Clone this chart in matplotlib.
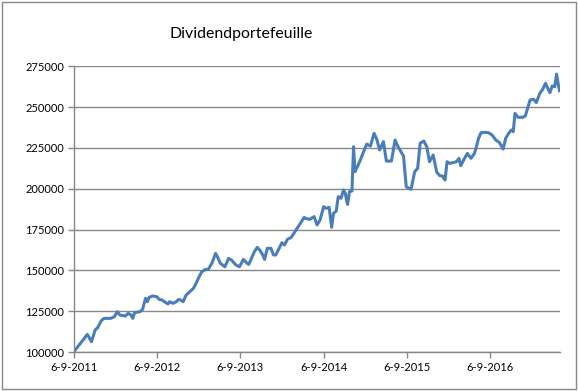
#!/usr/bin/env python3
"""Dividendportefeuille - lijngrafiek in Excel-stijl"""

import matplotlib
matplotlib.use("Agg")
import matplotlib.pyplot as plt
import matplotlib.patches as mpatches
import pandas as pd

START = "2011-09-06"

# dagen sinds 6-9-2011
days = [
    0, 60, 78, 94, 105, 121, 133, 162, 178, 191, 202, 226, 239, 251, 259, 267,
    291, 302, 315, 323, 331, 347, 364, 375, 388, 404, 414, 420, 436, 449, 461,
    469, 480, 493, 509, 525, 533, 550, 562, 579, 590, 606, 622, 630, 643, 663,
    679, 692, 711, 727, 744, 760, 768, 776, 792, 805, 816, 829, 837, 849, 865,
    876, 886, 897, 913, 924, 937, 954, 970, 994, 1010, 1018, 1034, 1054, 1067,
    1080, 1096, 1107, 1120, 1131, 1139, 1151, 1160, 1172, 1183, 1191, 1196,
    1201, 1209, 1220, 1227, 1233, 1244, 1257, 1274, 1285, 1301, 1317, 1329,
    1341, 1358, 1371, 1393, 1409, 1422, 1446, 1458, 1479, 1495, 1508, 1519,
    1535, 1548, 1560, 1576, 1592, 1605, 1616, 1628, 1637, 1649, 1678, 1689,
    1697, 1710, 1726, 1742, 1757, 1765, 1775, 1786, 1802, 1818, 1834, 1851,
    1867, 1883, 1894, 1907, 1918, 1927, 1935, 1948, 1969, 1980, 2001, 2017,
    2028, 2044, 2056, 2069, 2077, 2088, 2098, 2109, 2117, 2125, 2130,
]

# waarde portefeuille (euro)
values = [
    100000, 110800, 106300, 113500, 114900, 119200, 120600, 120600, 121600,
    124700, 122700, 122000, 123700, 122700, 120600, 124100, 124700, 126100,
    132900, 130800, 133500, 134300, 133900, 132200, 131800, 130200, 129400,
    130800, 129800, 130800, 132200, 131800, 130800, 134900, 136900, 139000,
    141000, 146100, 149200, 150600, 150600, 154300, 160400, 158400, 154300,
    152200, 157300, 156300, 153300, 152200, 156700, 154300, 153700, 156300,
    161400, 164100, 162400, 159400, 156700, 163500, 163500, 159400, 159400,
    162400, 166900, 165500, 169000, 170200, 173700, 178800, 182400, 181800,
    181200, 182900, 177800, 180800, 189000, 188000, 188600, 176300, 184900,
    186300, 195100, 194100, 199200, 197100, 193100, 190400, 198200, 198600,
    225700, 210400, 213500, 217600, 223700, 227300, 226100, 233900, 230200,
    223700, 228800, 216900, 216900, 229800, 225700, 220000, 201200, 199600,
    210400, 212400, 227800, 229200, 225700, 216500, 220600, 210000, 208000,
    207800, 205300, 216500, 215500, 216500, 218600, 214100, 217600, 221600,
    218600, 221600, 225300, 230800, 234300, 234500, 234300, 232900, 229800,
    228200, 224300, 230800, 233900, 235900, 234900, 246100, 243700, 243700,
    244500, 254300, 254700, 252700, 258400, 260800, 264500, 262000, 258800,
    262900, 262400, 270200, 263500, 260000,
]

tick_labels = ["6-9-2011", "6-9-2012", "6-9-2013", "6-9-2014", "6-9-2015", "6-9-2016"]
y_ticks = [100000, 125000, 150000, 175000, 200000, 225000, 250000, 275000]

FONT = ["Lato", "DejaVu Sans"]
GRID = "#878787"
LINE = "#4a7ebb"


def main():
    plt.rcParams["font.family"] = FONT
    dates = pd.Timestamp(START) + pd.to_timedelta(days, unit="D")
    tick_dates = pd.to_datetime(tick_labels, format="%d-%m-%Y")

    fig = plt.figure(figsize=(5.78, 3.91), dpi=100)
    fig.patch.set_facecolor("white")

    # kader rond de grafiek
    frame = mpatches.Rectangle((2 / 578, 2 / 391), 574 / 578, 387 / 391,
                               transform=fig.transFigure, fill=False,
                               edgecolor=GRID, linewidth=1.0)
    fig.patches.append(frame)

    ax = fig.add_axes([0.1275, 0.0997, 0.8405, 0.731])
    ax.plot(dates, values, color=LINE, linewidth=2.2, solid_joinstyle="round")

    ax.set_xlim(dates[0], dates[-1])
    ax.set_ylim(100000, 275000)
    ax.set_xticks(tick_dates)
    ax.set_xticklabels(tick_labels)
    ax.set_yticks(y_ticks)
    ax.set_yticklabels([str(v) for v in y_ticks])

    ax.yaxis.grid(True, color=GRID, linewidth=1.0)
    ax.set_axisbelow(True)
    for s in ["top", "right"]:
        ax.spines[s].set_visible(False)
    for s in ["left", "bottom"]:
        ax.spines[s].set_color(GRID)
        ax.spines[s].set_linewidth(1.0)
    ax.tick_params(axis="both", colors=GRID, labelcolor="black",
                   labelsize=8, length=4, width=1.0, direction="out")
    ax.tick_params(axis="x", pad=3)
    ax.tick_params(axis="y", pad=3)

    fig.text(0.417, 0.913, "Dividendportefeuille", ha="center", va="center",
             fontsize=11.4, color="black")

    fig.savefig("out.png", dpi=100, facecolor=fig.get_facecolor())
    plt.close(fig)


if __name__ == "__main__":
    main()
